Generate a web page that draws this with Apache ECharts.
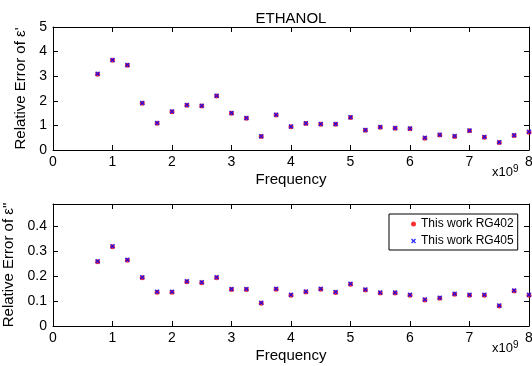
<!DOCTYPE html>
<html><head><meta charset="utf-8">
<script src="https://cdn.jsdelivr.net/npm/echarts@6/dist/echarts.min.js"></script>
<style>html,body{margin:0;padding:0;background:#fff}#c{width:532px;height:366px}</style>
</head><body><div id="c"></div>
<script>
const freq = [0.75,1,1.25,1.5,1.75,2,2.25,2.5,2.75,3,3.25,3.5,3.75,4,4.25,4.5,4.75,5,5.25,5.5,5.75,6,6.25,6.5,6.75,7,7.25,7.5,7.75,8];
const epsRealRG402 = [3.08,3.65,3.45,1.90,1.09,1.55,1.82,1.79,2.20,1.49,1.29,0.55,1.42,0.95,1.08,1.05,1.05,1.32,0.80,0.92,0.88,0.86,0.48,0.61,0.55,0.78,0.52,0.30,0.59,0.72];
const epsRealRG405 = [3.10,3.66,3.46,1.91,1.10,1.56,1.83,1.80,2.21,1.50,1.30,0.56,1.43,0.96,1.09,1.06,1.06,1.33,0.81,0.93,0.89,0.87,0.50,0.62,0.57,0.79,0.53,0.32,0.60,0.74];
const epsImagRG402 = [0.258,0.318,0.264,0.194,0.136,0.136,0.178,0.174,0.194,0.147,0.147,0.091,0.148,0.124,0.137,0.148,0.135,0.168,0.145,0.133,0.133,0.124,0.104,0.111,0.128,0.124,0.124,0.080,0.141,0.124];
const epsImagRG405 = [0.260,0.320,0.266,0.196,0.138,0.138,0.180,0.176,0.196,0.149,0.149,0.093,0.150,0.126,0.139,0.150,0.137,0.170,0.147,0.135,0.135,0.126,0.106,0.113,0.130,0.126,0.126,0.082,0.143,0.126];
const series1Name = 'This work RG402';
const series2Name = 'This work RG405';

const pair = (xs, ys) => xs.map((x, i) => [x, ys[i]]);
const F = 'Liberation Sans, Arial, sans-serif';
const xMark = 'path://M0,2L2,0L5,3L8,0L10,2L7,5L10,8L8,10L5,7L2,10L0,8L3,5Z';
const axLine = {show:true, onZero:false, lineStyle:{color:'#000', width:1}};
const tick = {show:true, inside:true, length:5, lineStyle:{color:'#000'}};
function xA(grid, pos, labels, name){
  return {gridIndex:grid, type:'value', position:pos, min:0, max:8, interval:1,
    axisLine:axLine, axisTick:tick, splitLine:{show:false},
    axisLabel:{show:labels, color:'#000', fontFamily:F, fontSize:14, margin:5},
    name: name||'', nameLocation:'middle', nameGap:22,
    nameTextStyle:{color:'#000', fontFamily:F, fontSize:15}};
}
function yA(grid, pos, labels, max, interval, name, gap){
  return {gridIndex:grid, type:'value', position:pos, min:0, max:max, interval:interval,
    axisLine:axLine, axisTick:tick, splitLine:{show:false},
    axisLabel:{show:labels, color:'#000', fontFamily:F, fontSize:14, margin:6,
      formatter: v => v > max - 1e-9 && Math.abs(max/interval - Math.round(max/interval)) > 1e-6 ? '' : String(+v.toFixed(2))},
    name: name||'', nameLocation:'middle', nameGap:gap||0,
    nameTextStyle:{color:'#000', fontFamily:F, fontSize:15}};
}
const chart = echarts.init(document.getElementById('c'));
chart.setOption({
  animation:false,
  backgroundColor:'#fff',
  title:{text:'ETHANOL', left:286, top:6, textAlign:'center',
    textStyle:{color:'#000', fontFamily:F, fontSize:15, fontWeight:'normal'}},
  grid:[
    {left:53, right:3, top:27, height:123, outerBoundsMode:'none', containLabel:false},
    {left:53, right:3, top:204, height:122, outerBoundsMode:'none', containLabel:false}
  ],
  xAxis:[xA(0,'bottom',true,'Frequency'), xA(0,'top',false), xA(1,'bottom',true,'Frequency'), xA(1,'top',false)],
  yAxis:[yA(0,'left',true,5,1,"Relative Error of ε'",23), yA(0,'right',false,5,1),
         yA(1,'left',true,0.49,0.1,'Relative Error of ε"',31), yA(1,'right',false,0.49,0.1)],
  legend:{data:[{name:series1Name, icon:'circle'},{name:series2Name, icon:xMark}], orient:'vertical',
    left:389, top:214, width:126, itemWidth:5, itemHeight:5, itemGap:5, padding:[4,4,3,22],
    borderColor:'#000', borderWidth:1, backgroundColor:'#fff',
    textStyle:{color:'#000', fontFamily:F, fontSize:12}},
  graphic:[
    {type:'text', left:492, top:164, style:{text:'x10{s|9}', fill:'#000', font:'13px '+F, rich:{s:{fontSize:10, verticalAlign:'top', padding:[0,0,6,0], fontFamily:F}}}},
    {type:'text', left:492, top:340, style:{text:'x10{s|9}', fill:'#000', font:'13px '+F, rich:{s:{fontSize:10, verticalAlign:'top', padding:[0,0,6,0], fontFamily:F}}}}
  ],
  series:[
    {name:series1Name, type:'scatter', xAxisIndex:0, yAxisIndex:0, data:pair(freq,epsRealRG402), symbol:'circle', symbolSize:5, itemStyle:{color:'#ff0000'}, clip:false, z:2},
    {name:series2Name, type:'scatter', xAxisIndex:0, yAxisIndex:0, data:pair(freq,epsRealRG405), symbol:xMark, symbolSize:5, itemStyle:{color:'#0000ff'}, clip:false, z:3},
    {name:series1Name, type:'scatter', xAxisIndex:2, yAxisIndex:2, data:pair(freq,epsImagRG402), symbol:'circle', symbolSize:5, itemStyle:{color:'#ff0000'}, clip:false, z:2},
    {name:series2Name, type:'scatter', xAxisIndex:2, yAxisIndex:2, data:pair(freq,epsImagRG405), symbol:xMark, symbolSize:5, itemStyle:{color:'#0000ff'}, clip:false, z:3}
  ]
});
</script></body></html>
